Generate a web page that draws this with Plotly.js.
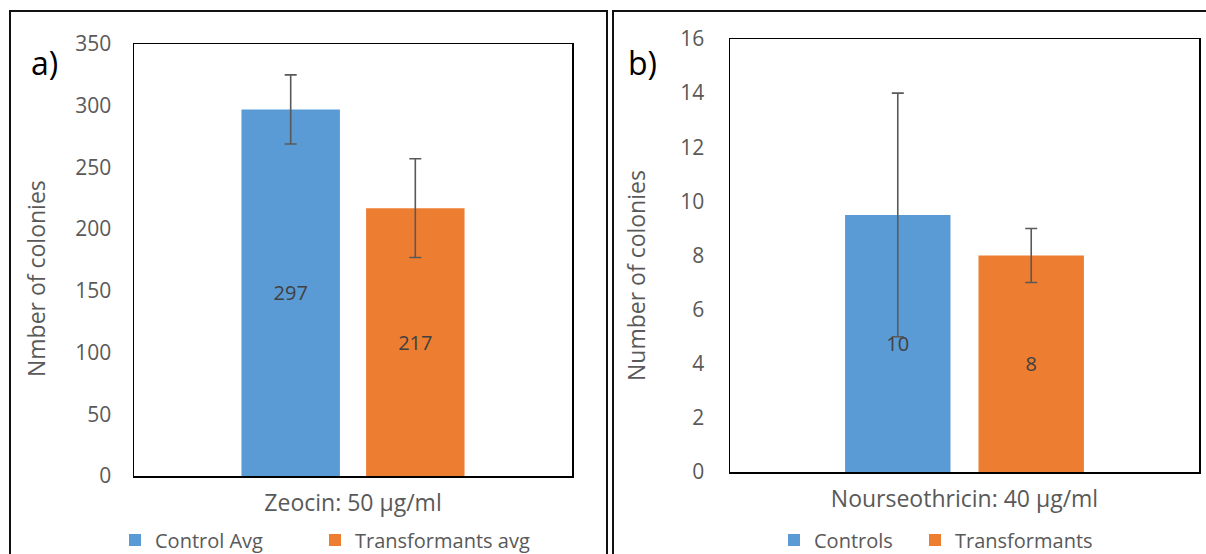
<!DOCTYPE html>
<html>
<head>
<meta charset="utf-8">
<script src="https://cdn.plot.ly/plotly-3.0.1.min.js"></script>
<style>html,body{margin:0;padding:0;background:#fff;}#chart{width:1206px;height:554px;}</style>
</head>
<body>
<div id="chart"></div>
<script>
// ---- Data ----
const zeoCategory = ['Zeocin: 50 µg/ml'];
const zeoSeries = ['Control Avg', 'Transformants avg'];
const zeoValues = [297, 217];
const zeoErrors = [28, 40];
const zeoLabels = ['297', '217'];
const zeoTicks = [0, 50, 100, 150, 200, 250, 300, 350];
const zeoTitle = 'Nmber of colonies';

const nouCategory = ['Nourseothricin: 40 µg/ml'];
const nouSeries = ['Controls', 'Transformants'];
const nouValues = [9.5, 8];
const nouErrors = [4.5, 1];
const nouLabels = ['10', '8'];
const nouTicks = [0, 2, 4, 6, 8, 10, 12, 14, 16];
const nouTitle = 'Number of colonies';

const colors = ['#5B9BD5', '#ED7D31'];

// ---- Geometry helpers (pixels -> paper) ----
const W = 1206, H = 554;
const px = v => v / W;
const py = v => (H - v) / H;

const FONT = '"Open Sans", Lato, sans-serif';
const GREY = '#595959';

function mkTrace(cat, name, val, err, lab, color, xa, ya, leg) {
  return {
    type: 'bar', x: cat, y: [val], name: name,
    text: [lab], textposition: 'inside', insidetextanchor: 'middle',
    textangle: 0, insidetextfont: {family: FONT, size: 20, color: '#404040'},
    marker: {color: color, line: {width: 0}},
    error_y: {type: 'data', array: [err], visible: true, color: GREY, thickness: 1.6, width: 6},
    xaxis: xa, yaxis: ya, legend: leg, hoverinfo: 'skip', cliponaxis: false
  };
}

const data = [
  mkTrace(zeoCategory, zeoSeries[0], zeoValues[0], zeoErrors[0], zeoLabels[0], colors[0], 'x', 'y', 'legend'),
  mkTrace(zeoCategory, zeoSeries[1], zeoValues[1], zeoErrors[1], zeoLabels[1], colors[1], 'x', 'y', 'legend2'),
  mkTrace(nouCategory, nouSeries[0], nouValues[0], nouErrors[0], nouLabels[0], colors[0], 'x2', 'y2', 'legend3'),
  mkTrace(nouCategory, nouSeries[1], nouValues[1], nouErrors[1], nouLabels[1], colors[1], 'x2', 'y2', 'legend4')
];

const axisCommon = {
  showgrid: false, zeroline: false, showline: true, mirror: true,
  linecolor: '#000', linewidth: 1.5, ticks: '', fixedrange: true, automargin: false
};

function mkLegend(xPix) {
  return {
    orientation: 'h', x: px(xPix), xanchor: 'left', y: py(540), yanchor: 'middle',
    font: {family: FONT, size: 20, color: GREY}, bgcolor: 'rgba(0,0,0,0)',
    itemclick: false, itemdoubleclick: false
  };
}

const layout = {
  width: W, height: H,
  margin: {l: 0, r: 0, t: 0, b: 0, autoexpand: false},
  paper_bgcolor: '#fff', plot_bgcolor: '#fff',
  font: {family: FONT, color: GREY},
  barmode: 'group', bargap: 0.431, bargroupgap: 0.21,
  showlegend: true,
  xaxis: Object.assign({}, axisCommon, {
    domain: [px(134), px(572)], anchor: 'y', type: 'category',
    tickfont: {family: FONT, size: 23, color: GREY}, ticklabelstandoff: 6
  }),
  yaxis: Object.assign({}, axisCommon, {
    domain: [py(476), py(44)], anchor: 'x', range: [0, 350],
    tickvals: zeoTicks, ticktext: zeoTicks.map(String),
    tickfont: {family: FONT, size: 21, color: GREY}, ticklabelstandoff: 17
  }),
  xaxis2: Object.assign({}, axisCommon, {
    domain: [px(730), px(1199)], anchor: 'y2', type: 'category',
    tickfont: {family: FONT, size: 23, color: GREY}, ticklabelstandoff: 6
  }),
  yaxis2: Object.assign({}, axisCommon, {
    domain: [py(472), py(39)], anchor: 'x2', range: [0, 16],
    tickvals: nouTicks, ticktext: nouTicks.map(String),
    tickfont: {family: FONT, size: 21, color: GREY}, ticklabelstandoff: 20
  }),
  legend: mkLegend(115),
  legend2: mkLegend(315),
  legend3: mkLegend(774),
  legend4: mkLegend(915),
  shapes: [
    {type: 'rect', xref: 'paper', yref: 'paper', x0: px(10), x1: px(607), y0: -0.05, y1: py(11),
     line: {color: '#111', width: 2}},
    {type: 'rect', xref: 'paper', yref: 'paper', x0: px(613), x1: 1.05, y0: -0.05, y1: py(11),
     line: {color: '#111', width: 2}}
  ],
  annotations: [
    {xref: 'paper', yref: 'paper', x: px(44), y: py(62), text: 'a)', showarrow: false,
     font: {family: FONT, size: 32, color: '#000'}, xanchor: 'center', yanchor: 'middle'},
    {xref: 'paper', yref: 'paper', x: px(642), y: py(62), text: 'b)', showarrow: false,
     font: {family: FONT, size: 32, color: '#000'}, xanchor: 'center', yanchor: 'middle'},
    {xref: 'paper', yref: 'paper', x: px(36), y: py(279), text: zeoTitle, showarrow: false, textangle: -90,
     font: {family: FONT, size: 23, color: GREY}, xanchor: 'center', yanchor: 'middle'},
    {xref: 'paper', yref: 'paper', x: px(636), y: py(276), text: nouTitle, showarrow: false, textangle: -90,
     font: {family: FONT, size: 23, color: GREY}, xanchor: 'center', yanchor: 'middle'}
  ]
};

Plotly.newPlot('chart', data, layout, {staticPlot: true, displayModeBar: false});
</script>
</body>
</html>
